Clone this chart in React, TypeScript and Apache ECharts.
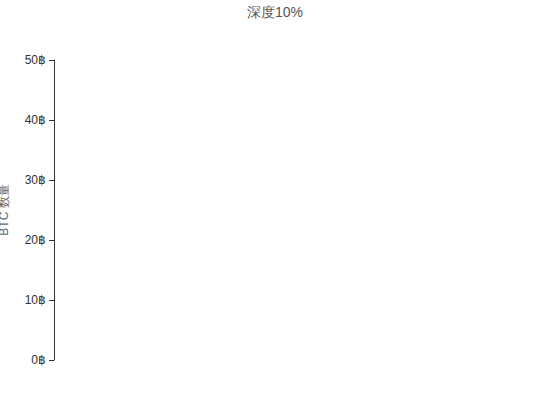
import { useEffect, useRef } from 'react'
import * as echarts from 'echarts'

// depth chart data (empty in the reference: nothing plotted within 10%)
const bidPrices: number[] = []
const bidAmounts: number[] = []
const askPrices: number[] = []
const askAmounts: number[] = []

const yTicks = [0, 10, 20, 30, 40, 50]

export default function App() {
  const chartRef = useRef<HTMLDivElement>(null)

  useEffect(() => {
    if (!chartRef.current) return
    document.body.style.margin = '0'

    const chart = echarts.init(chartRef.current, null, { renderer: 'svg' })

    const option: echarts.EChartsOption = {
      animation: false,
      title: {
        text: '深度10%',
        left: 'center',
        top: 0,
        textStyle: {
          fontSize: 14,
          fontWeight: 'normal',
          color: '#555'
        }
      },
      grid: {
        left: 54,
        right: 40,
        top: 60,
        bottom: 60,
        outerBoundsMode: 'none'
      } as any,
      xAxis: {
        type: 'value',
        show: false
      },
      yAxis: {
        type: 'value',
        min: yTicks[0],
        max: yTicks[yTicks.length - 1],
        interval: 10,
        name: 'BTC 数量',
        nameLocation: 'middle',
        nameGap: 44,
        nameTextStyle: { color: '#666', fontSize: 12 },
        axisLine: { show: true, lineStyle: { color: '#333' } },
        axisTick: { show: true, length: 5, lineStyle: { color: '#333' } },
        axisLabel: { formatter: '{value}฿', color: '#333', fontSize: 12 },
        splitLine: { show: false }
      },
      series: [
        {
          name: 'Bids',
          type: 'line',
          step: 'end',
          showSymbol: false,
          data: bidPrices.map((p, i) => [p, bidAmounts[i]])
        },
        {
          name: 'Asks',
          type: 'line',
          step: 'start',
          showSymbol: false,
          data: askPrices.map((p, i) => [p, askAmounts[i]])
        }
      ]
    }

    chart.setOption(option)

    return () => {
      chart.dispose()
    }
  }, [])

  return <div ref={chartRef} style={{ width: '550px', height: '420px' }} />
}
